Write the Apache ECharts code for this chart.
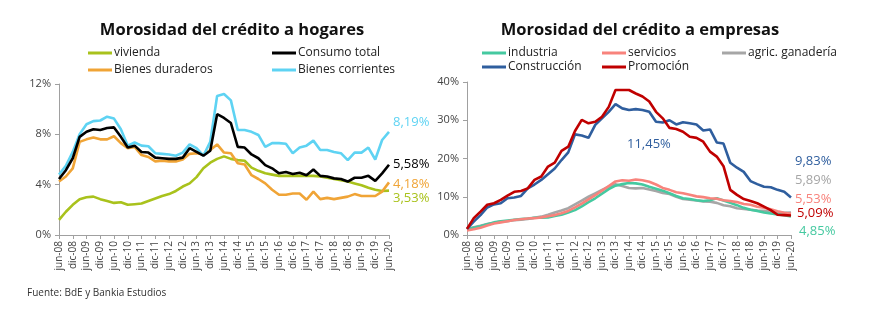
<!DOCTYPE html>
<html><head><meta charset="utf-8">
<script src="https://cdn.jsdelivr.net/npm/echarts@6/dist/echarts.min.js"></script>
<style>html,body{margin:0;padding:0;background:#fff}#c{width:882px;height:326px}</style>
</head><body><div id="c"></div>
<script>
// Quarterly categories jun-08 .. jun-20
const categories = ["jun-08","sep-08","dic-08","mar-09","jun-09","sep-09","dic-09","mar-10","jun-10","sep-10","dic-10","mar-11","jun-11","sep-11","dic-11","mar-12","jun-12","sep-12","dic-12","mar-13","jun-13","sep-13","dic-13","mar-14","jun-14","sep-14","dic-14","mar-15","jun-15","sep-15","dic-15","mar-16","jun-16","sep-16","dic-16","mar-17","jun-17","sep-17","dic-17","mar-18","jun-18","sep-18","dic-18","mar-19","jun-19","sep-19","dic-19","mar-20","jun-20"];

// Left chart: households (%)
const vivienda = [1.2,1.85,2.4,2.85,3.0,3.05,2.85,2.7,2.55,2.6,2.4,2.45,2.5,2.7,2.9,3.1,3.25,3.5,3.85,4.1,4.6,5.3,5.75,6.05,6.25,6.05,5.95,5.9,5.35,5.1,4.9,4.8,4.7,4.7,4.7,4.7,4.7,4.7,4.65,4.55,4.45,4.35,4.25,4.1,3.95,3.75,3.6,3.5,3.53];
const consumoTotal = [4.45,5.15,6.1,7.8,8.2,8.4,8.35,8.5,8.55,7.8,6.95,7.1,6.6,6.55,6.15,6.1,6.05,6.05,6.15,6.9,6.6,6.3,6.7,9.6,9.3,8.9,7.0,6.95,6.4,6.1,5.55,5.3,4.9,5.0,4.85,4.95,4.75,5.2,4.7,4.65,4.5,4.45,4.25,4.55,4.55,4.7,4.3,4.9,5.58];
const bienesDuraderos = [4.25,4.65,5.3,7.4,7.6,7.75,7.6,7.6,7.85,7.3,6.9,7.0,6.35,6.2,5.85,5.9,5.85,5.85,6.0,6.45,6.5,6.4,6.75,7.2,6.55,6.5,5.7,5.6,4.75,4.45,4.1,3.6,3.2,3.2,3.3,3.3,2.8,3.45,2.85,2.95,2.85,2.95,3.05,3.25,3.1,3.1,3.1,3.45,4.18];
const bienesCorrientes = [4.8,5.5,6.6,8.0,8.8,9.05,9.1,9.4,9.25,8.4,7.1,7.35,7.1,7.05,6.5,6.45,6.4,6.3,6.55,7.2,6.9,6.3,7.4,11.05,11.2,10.7,8.35,8.35,8.2,7.95,7.0,7.3,7.3,7.25,6.5,6.95,7.1,7.5,6.75,6.75,6.6,6.5,5.95,6.55,6.55,6.95,6.0,7.55,8.19];

// Right chart: companies (%)
const industria = [1.5,1.9,2.3,2.8,3.3,3.6,3.8,4.0,4.2,4.3,4.5,4.5,4.6,5.0,5.3,5.9,6.5,7.5,8.6,9.6,10.8,12.0,12.9,13.3,13.6,13.5,13.2,12.6,12.1,11.6,10.9,10.2,9.6,9.4,9.1,8.9,9.1,9.6,9.0,8.4,7.8,7.1,6.6,6.3,5.9,5.6,5.4,5.2,4.85];
const servicios = [1.2,1.5,1.9,2.5,3.0,3.3,3.6,3.9,4.1,4.3,4.4,4.6,4.9,5.2,5.7,6.3,7.2,8.2,9.3,10.4,11.6,12.8,14.0,14.3,14.2,14.5,14.3,13.9,13.2,12.3,11.8,11.2,10.9,10.5,10.1,9.9,9.6,9.5,9.1,8.9,8.6,8.1,7.9,7.4,7.1,6.7,6.2,5.8,5.53];
const agric = [1.5,2.0,2.4,2.9,3.2,3.5,3.6,3.9,4.0,4.2,4.5,4.8,5.3,5.9,6.4,7.0,8.0,9.0,10.0,10.9,11.8,12.6,13.3,12.8,12.3,12.2,12.3,11.9,11.5,11.0,10.7,10.0,9.4,9.2,9.0,8.8,8.7,8.4,7.8,7.5,7.0,6.8,6.6,6.4,6.3,6.1,5.9,5.8,5.89];
const construccion = [1.6,3.5,5.2,7.2,8.0,8.3,9.6,9.8,10.2,12.2,13.2,14.4,15.9,17.4,19.6,21.6,26.3,26.0,25.4,28.8,30.5,32.2,34.2,33.1,32.7,32.9,32.7,32.2,29.6,29.4,30.0,28.9,29.5,29.2,28.9,27.3,27.6,24.2,23.9,18.9,17.6,16.5,14.1,13.3,12.6,12.5,11.8,11.3,9.83];
const promocion = [1.6,4.4,6.1,7.9,8.3,9.2,10.3,11.3,11.5,12.2,14.4,15.3,17.9,18.9,22.0,23.1,27.2,30.1,29.2,29.6,30.9,33.5,37.9,37.9,37.9,37.0,36.2,34.9,32.2,30.5,28.0,27.7,27.0,25.7,25.4,24.4,21.8,20.5,18.0,11.8,10.5,9.4,8.9,8.3,7.4,6.5,5.3,5.2,5.09];

const leftTicks = [0,4,8,12];
const rightTicks = [0,10,20,30,40];

const FONT = "'Open Sans', sans-serif";
const fmt = v => v.toFixed(2).replace('.', ',') + '%';

function line(name, data, color, xi, lblOffset, w) {
  return {
    name, type: 'line', data, xAxisIndex: xi, yAxisIndex: xi,
    symbol: 'none', smooth: false,
    lineStyle: {color, width: w || 2.6},
    itemStyle: {color},
    endLabel: lblOffset ? {
      show: true, formatter: p => fmt(p.value), color, fontSize: 13,
      fontFamily: FONT, offset: lblOffset, distance: 4
    } : {show: false},
    emphasis: {disabled: true}, animation: false
  };
}

function xAxis(gi) {
  return {
    type: 'category', gridIndex: gi, data: categories, boundaryGap: false,
    axisLine: {lineStyle: {color: '#a0a0a0'}},
    axisTick: {interval: 1, length: 4, lineStyle: {color: '#a0a0a0'}},
    axisLabel: {interval: 1, rotate: 90, fontSize: 10, color: '#444', fontFamily: FONT, margin: 6},
    splitLine: {show: false}
  };
}
function yAxis(gi, ticks) {
  return {
    type: 'value', gridIndex: gi, min: ticks[0], max: ticks[ticks.length-1],
    interval: ticks[1]-ticks[0],
    axisLine: {show: true, lineStyle: {color: '#a0a0a0'}},
    axisTick: {show: true, length: 4, lineStyle: {color: '#a0a0a0'}},
    axisLabel: {formatter: '{value}%', fontSize: 11, color: '#444', fontFamily: FONT, margin: 8},
    splitLine: {show: false}
  };
}
function leg(name, left, top) {
  return {
    data: [name], left, top, icon: 'rect', itemWidth: 24, itemHeight: 3,
    textStyle: {fontSize: 12, color: '#222', fontFamily: FONT, padding: [0,0,0,-3]},
    selectedMode: false, padding: 0
  };
}

const chart = echarts.init(document.getElementById('c'), null, {renderer: 'canvas'});
chart.setOption({
  backgroundColor: '#fff',
  animation: false,
  title: [
    {text: 'Morosidad del crédito a hogares', left: 227, top: 17, textAlign: 'center',
     textStyle: {fontSize: 16.5, fontWeight: 'bold', color: '#111', fontFamily: FONT}},
    {text: 'Morosidad del crédito a empresas', left: 635, top: 17, textAlign: 'center',
     textStyle: {fontSize: 16.5, fontWeight: 'bold', color: '#111', fontFamily: FONT}},
    {text: 'Fuente: BdE y Bankia Estudios', left: 22, top: 283,
     textStyle: {fontSize: 10, fontWeight: 'normal', color: '#333', fontFamily: FONT}}
  ],
  legend: [
    leg('vivienda', 88, 47), leg('Consumo total', 272, 47),
    leg('Bienes duraderos', 88, 64), leg('Bienes corrientes', 272, 64),
    leg('industria', 482, 47), leg('servicios', 602, 47), leg('agric. ganadería', 722, 47),
    leg('Construcción', 482, 61), leg('Promoción', 602, 61)
  ],
  grid: [
    {left: 59, right: 493, top: 84, bottom: 91},
    {left: 467, right: 91, top: 82, bottom: 91}
  ],
  xAxis: [xAxis(0), xAxis(1)],
  yAxis: [yAxis(0, leftTicks), yAxis(1, rightTicks)],
  graphic: [
    {type: 'text', left: 627, top: 138, style: {text: '11,45%', fill: '#2f5e9e', fontSize: 13, fontFamily: FONT}}
  ],
  series: [
    line('vivienda', vivienda, '#a9c21c', 0, [0, 8]),
    line('Bienes duraderos', bienesDuraderos, '#f0a436', 0, [0, 2]),
    line('Bienes corrientes', bienesCorrientes, '#5ed3f3', 0, [0, -10]),
    line('Consumo total', consumoTotal, '#000000', 0, [0, 0]),
    line('agric. ganadería', agric, '#a6a6a6', 1, [0, -32]),
    line('industria', industria, '#45c9a0', 1, [4, 15]),
    line('servicios', servicios, '#f8837c', 1, [0, -15]),
    line('Construcción', construccion, '#2f5e9e', 1, [0, -36]),
    line('Promoción', promocion, '#c00000', 1, [2, -2])
  ]
});
</script></body></html>
